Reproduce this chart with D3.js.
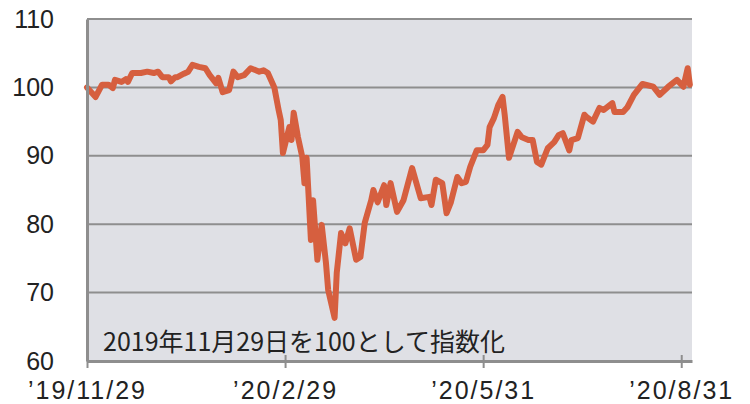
<!DOCTYPE html>
<html>
<head>
<meta charset="utf-8">
<script src="https://cdn.jsdelivr.net/npm/d3@7"></script>
<style>
  body { margin: 0; background: #fff; }
  svg { display: block; }
</style>
</head>
<body>
<div id="chart"></div>
<script>
// index values, 2019/11/29 = 100
var dates = [
  "2019-11-29","2019-12-03","2019-12-06","2019-12-09","2019-12-11","2019-12-12","2019-12-15","2019-12-17",
  "2019-12-18","2019-12-20","2019-12-24","2019-12-27","2019-12-30","2020-01-01","2020-01-03","2020-01-06",
  "2020-01-07","2020-01-09","2020-01-10","2020-01-13","2020-01-15","2020-01-17","2020-01-20","2020-01-23",
  "2020-01-25","2020-01-28","2020-01-29","2020-01-31","2020-02-03","2020-02-05","2020-02-07","2020-02-10",
  "2020-02-13","2020-02-17","2020-02-19","2020-02-21","2020-02-24","2020-02-26","2020-02-27","2020-02-28",
  "2020-03-02","2020-03-03","2020-03-04","2020-03-06","2020-03-08","2020-03-09","2020-03-10","2020-03-12",
  "2020-03-13","2020-03-15","2020-03-17","2020-03-19","2020-03-20","2020-03-23","2020-03-24","2020-03-26",
  "2020-03-28","2020-03-30","2020-04-02","2020-04-04","2020-04-06","2020-04-09","2020-04-10","2020-04-12",
  "2020-04-15","2020-04-16","2020-04-18","2020-04-21","2020-04-24","2020-04-28","2020-05-02","2020-05-06",
  "2020-05-07","2020-05-09","2020-05-12","2020-05-14","2020-05-16","2020-05-19","2020-05-21","2020-05-23",
  "2020-05-25","2020-05-28","2020-05-31","2020-06-02","2020-06-03","2020-06-05","2020-06-07","2020-06-09",
  "2020-06-10","2020-06-12","2020-06-14","2020-06-16","2020-06-18","2020-06-21","2020-06-23","2020-06-25",
  "2020-06-27","2020-06-30","2020-07-03","2020-07-05","2020-07-07","2020-07-10","2020-07-11","2020-07-14",
  "2020-07-17","2020-07-18","2020-07-21","2020-07-24","2020-07-26","2020-07-30","2020-07-31","2020-08-04",
  "2020-08-06","2020-08-09","2020-08-13","2020-08-18","2020-08-21","2020-08-25","2020-08-29","2020-09-01",
  "2020-09-03","2020-09-04"
];
var values = [
  100.0, 98.6, 100.4, 100.4, 99.9, 101.1, 100.8, 101.2,
  100.8, 102.1, 102.1, 102.3, 102.1, 102.3, 101.5, 101.5,
  100.9, 101.5, 101.5, 102.0, 102.3, 103.3, 103.0, 102.8,
  101.8, 100.6, 101.4, 99.3, 99.6, 102.3, 101.5, 101.8,
  102.8, 102.3, 102.5, 102.1, 100.0, 96.7, 95.2, 90.4,
  94.2, 92.3, 96.3, 92.7, 89.8, 86.0, 89.7, 77.7,
  83.5, 74.8, 79.9, 74.3, 70.4, 66.3, 72.9, 78.7,
  77.2, 79.4, 74.8, 75.2, 80.2, 83.5, 85.0, 83.2,
  85.7, 82.8, 86.0, 81.8, 83.5, 88.2, 83.8, 84.0,
  82.8, 86.5, 86.0, 81.6, 83.2, 86.9, 86.0, 86.2,
  88.4, 90.8, 90.8, 91.6, 94.2, 95.5, 97.4, 98.6,
  96.0, 89.7, 91.6, 93.5, 92.7, 92.3, 92.3, 89.1,
  88.7, 91.1, 92.0, 93.0, 93.3, 90.8, 92.3, 92.6,
  96.0, 95.7, 95.0, 97.0, 96.7, 97.7, 96.4, 96.4,
  97.1, 98.9, 100.5, 100.1, 98.9, 100.1, 101.1, 100.1,
  102.8, 100.4
];

var yTicks = [60, 70, 80, 90, 100, 110];
var xTickDates = ["2019-11-29", "2020-02-29", "2020-05-31", "2020-08-31"];
var xTickLabels = ["’19/11/29", "’20/2/29", "’20/5/31", "’20/8/31"];
var note = "2019年11月29日を100として指数化";

var margin = {top: 19, right: 58, bottom: 43, left: 87},
    width = 750 - margin.left - margin.right,
    height = 404 - margin.top - margin.bottom;

var parse = d3.timeParse("%Y-%m-%d");
var data = dates.map(function(d, i) { return {date: parse(d), value: values[i]}; });

var svg = d3.select("#chart")
  .append("svg")
    .attr("width", 750)
    .attr("height", 404)
  .append("g")
    .attr("transform", "translate(" + margin.left + "," + margin.top + ")");

var x = d3.scaleTime()
  .domain([parse("2019-11-29"), parse("2020-09-05")])
  .range([0, width]);

var y = d3.scaleLinear()
  .domain([60, 110])
  .range([height, 0]);

// plot background
svg.append("rect")
  .attr("width", width)
  .attr("height", height)
  .attr("fill", "#dfe0e5");

// horizontal grid lines
svg.selectAll(".grid")
  .data(yTicks.slice(1))
  .enter()
  .append("line")
    .attr("x1", 0)
    .attr("x2", width)
    .attr("y1", function(d) { return y(d); })
    .attr("y2", function(d) { return y(d); })
    .attr("stroke", "#8e8e8e")
    .attr("stroke-width", 2);

// note text inside plot
svg.append("text")
  .attr("x", 16)
  .attr("y", height - 10)
  .attr("font-family", "'Noto Sans CJK JP', sans-serif")
  .attr("font-size", 25)
  .attr("fill", "#222")
  .text(note);

// the line
svg.append("path")
  .datum(data)
  .attr("fill", "none")
  .attr("stroke", "#d65f3f")
  .attr("stroke-width", 6)
  .attr("stroke-linejoin", "round")
  .attr("stroke-linecap", "round")
  .attr("d", d3.line()
    .x(function(d) { return x(d.date); })
    .y(function(d) { return y(d.value); })
  );

// y axis
var yAxis = svg.append("g")
  .call(d3.axisLeft(y).tickValues(yTicks).tickSize(0).tickPadding(33));
yAxis.select(".domain").attr("stroke", "#8e8e8e").attr("stroke-width", 3);
yAxis.selectAll("text")
  .attr("font-family", "'Liberation Sans', sans-serif")
  .attr("font-size", 25)
  .attr("fill", "#222");

// x axis
var xAxis = svg.append("g")
  .attr("transform", "translate(0," + height + ")")
  .call(d3.axisBottom(x)
    .tickValues(xTickDates.map(parse))
    .tickFormat(function(d, i) { return xTickLabels[i]; })
    .tickSizeOuter(0)
    .tickSizeInner(7)
    .tickPadding(13));
xAxis.select(".domain").attr("stroke", "#8e8e8e").attr("stroke-width", 3);
xAxis.selectAll(".tick line")
  .attr("y1", -6)
  .attr("stroke", "#8e8e8e")
  .attr("stroke-width", 2);
xAxis.selectAll("text")
  .attr("font-family", "'Liberation Sans', sans-serif")
  .attr("font-size", 25)
  .attr("letter-spacing", 2)
  .attr("fill", "#222");
</script>
</body>
</html>
